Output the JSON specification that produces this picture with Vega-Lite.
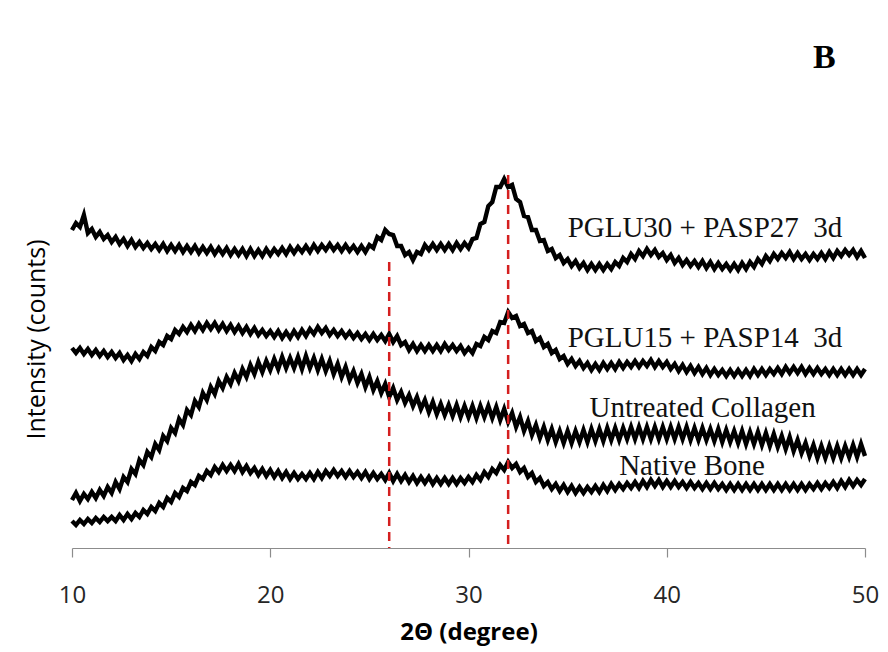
{
"$schema": "https://vega.github.io/schema/vega-lite/v6.json",
"width": 793,
"height": 418,
"autosize": {"type": "none"},
"padding": {"left": 72, "top": 130, "right": 23, "bottom": 104},
"background": "white",
"config": {"view": {"stroke": null}},
"title": {"text": "B", "anchor": "end", "orient": "top", "baseline": "alphabetic", "offset": 28, "dx": -43, "font": "Liberation Serif", "fontSize": 34, "fontWeight": "bold", "color": "black"},
"datasets": {
"xrd": [
{"x":10.0,"a":318,"b":200,"c":48,"d":27},
{"x":10.2,"a":325,"b":195,"c":55,"d":23},
{"x":10.4,"a":321,"b":200,"c":47,"d":28},
{"x":10.6,"a":333,"b":194,"c":54,"d":24},
{"x":10.8,"a":315,"b":199,"c":49,"d":29},
{"x":11.0,"a":319,"b":193,"c":56,"d":25},
{"x":11.2,"a":311,"b":198,"c":50,"d":30},
{"x":11.4,"a":316,"b":192,"c":58,"d":26},
{"x":11.6,"a":309,"b":197,"c":52,"d":31},
{"x":11.8,"a":313,"b":191,"c":61,"d":27},
{"x":12.0,"a":306,"b":196,"c":55,"d":31},
{"x":12.2,"a":311,"b":190,"c":66,"d":27},
{"x":12.4,"a":304,"b":195,"c":59,"d":33},
{"x":12.6,"a":309,"b":188,"c":71,"d":28},
{"x":12.8,"a":302,"b":193,"c":66,"d":34},
{"x":13.0,"a":308,"b":187,"c":79,"d":29},
{"x":13.2,"a":301,"b":194,"c":74,"d":35},
{"x":13.4,"a":306,"b":189,"c":88,"d":31},
{"x":13.6,"a":300,"b":196,"c":83,"d":38},
{"x":13.8,"a":305,"b":192,"c":96,"d":34},
{"x":14.0,"a":299,"b":201,"c":91,"d":41},
{"x":14.2,"a":304,"b":197,"c":104,"d":37},
{"x":14.4,"a":298,"b":206,"c":98,"d":45},
{"x":14.6,"a":304,"b":203,"c":112,"d":41},
{"x":14.8,"a":297,"b":212,"c":107,"d":50},
{"x":15.0,"a":303,"b":209,"c":120,"d":46},
{"x":15.2,"a":297,"b":218,"c":115,"d":55},
{"x":15.4,"a":303,"b":214,"c":129,"d":51},
{"x":15.6,"a":296,"b":221,"c":123,"d":60},
{"x":15.8,"a":302,"b":216,"c":138,"d":57},
{"x":16.0,"a":296,"b":223,"c":133,"d":66},
{"x":16.2,"a":302,"b":217,"c":147,"d":63},
{"x":16.4,"a":295,"b":224,"c":141,"d":72},
{"x":16.6,"a":301,"b":218,"c":155,"d":69},
{"x":16.8,"a":295,"b":225,"c":148,"d":77},
{"x":17.0,"a":301,"b":219,"c":161,"d":73},
{"x":17.2,"a":294,"b":225,"c":154,"d":81},
{"x":17.4,"a":300,"b":218,"c":167,"d":76},
{"x":17.6,"a":294,"b":224,"c":160,"d":83},
{"x":17.8,"a":300,"b":217,"c":171,"d":77},
{"x":18.0,"a":293,"b":223,"c":164,"d":83},
{"x":18.2,"a":299,"b":216,"c":175,"d":77},
{"x":18.4,"a":293,"b":222,"c":167,"d":84},
{"x":18.6,"a":299,"b":215,"c":179,"d":76},
{"x":18.8,"a":292,"b":221,"c":171,"d":82},
{"x":19.0,"a":299,"b":214,"c":183,"d":75},
{"x":19.2,"a":292,"b":220,"c":174,"d":80},
{"x":19.4,"a":298,"b":213,"c":186,"d":73},
{"x":19.6,"a":292,"b":218,"c":176,"d":79},
{"x":19.8,"a":299,"b":212,"c":187,"d":72},
{"x":20.0,"a":293,"b":217,"c":178,"d":78},
{"x":20.2,"a":299,"b":211,"c":189,"d":71},
{"x":20.4,"a":294,"b":217,"c":179,"d":77},
{"x":20.6,"a":300,"b":210,"c":191,"d":70},
{"x":20.8,"a":294,"b":216,"c":180,"d":76},
{"x":21.0,"a":301,"b":210,"c":190,"d":69},
{"x":21.2,"a":295,"b":217,"c":180,"d":75},
{"x":21.4,"a":301,"b":211,"c":191,"d":69},
{"x":21.6,"a":296,"b":218,"c":179,"d":74},
{"x":21.8,"a":302,"b":212,"c":192,"d":69},
{"x":22.0,"a":296,"b":219,"c":180,"d":75},
{"x":22.2,"a":303,"b":214,"c":190,"d":69},
{"x":22.4,"a":297,"b":221,"c":178,"d":76},
{"x":22.6,"a":303,"b":215,"c":189,"d":70},
{"x":22.8,"a":298,"b":220,"c":177,"d":77},
{"x":23.0,"a":304,"b":213,"c":187,"d":72},
{"x":23.2,"a":298,"b":218,"c":174,"d":78},
{"x":23.4,"a":303,"b":212,"c":184,"d":72},
{"x":23.6,"a":297,"b":217,"c":171,"d":77},
{"x":23.8,"a":303,"b":211,"c":181,"d":71},
{"x":24.0,"a":297,"b":216,"c":168,"d":77},
{"x":24.2,"a":302,"b":210,"c":177,"d":71},
{"x":24.4,"a":296,"b":215,"c":165,"d":76},
{"x":24.6,"a":302,"b":209,"c":174,"d":70},
{"x":24.8,"a":296,"b":214,"c":161,"d":76},
{"x":25.0,"a":303,"b":208,"c":171,"d":69},
{"x":25.2,"a":300,"b":214,"c":158,"d":75},
{"x":25.4,"a":311,"b":208,"c":167,"d":69},
{"x":25.6,"a":308,"b":213,"c":155,"d":74},
{"x":25.8,"a":318,"b":207,"c":164,"d":68},
{"x":26.0,"a":314,"b":214,"c":151,"d":75},
{"x":26.2,"a":313,"b":206,"c":160,"d":67},
{"x":26.4,"a":302,"b":212,"c":148,"d":74},
{"x":26.6,"a":302,"b":203,"c":156,"d":67},
{"x":26.8,"a":293,"b":206,"c":145,"d":73},
{"x":27.0,"a":296,"b":198,"c":153,"d":66},
{"x":27.2,"a":288,"b":204,"c":142,"d":72},
{"x":27.4,"a":296,"b":197,"c":151,"d":65},
{"x":27.6,"a":294,"b":203,"c":139,"d":71},
{"x":27.8,"a":303,"b":197,"c":148,"d":65},
{"x":28.0,"a":298,"b":203,"c":136,"d":71},
{"x":28.2,"a":304,"b":197,"c":146,"d":64},
{"x":28.4,"a":298,"b":203,"c":134,"d":70},
{"x":28.6,"a":304,"b":197,"c":144,"d":64},
{"x":28.8,"a":298,"b":204,"c":133,"d":70},
{"x":29.0,"a":304,"b":198,"c":143,"d":64},
{"x":29.2,"a":298,"b":203,"c":132,"d":70},
{"x":29.4,"a":305,"b":197,"c":143,"d":64},
{"x":29.6,"a":299,"b":202,"c":131,"d":70},
{"x":29.8,"a":305,"b":195,"c":142,"d":65},
{"x":30.0,"a":300,"b":200,"c":131,"d":71},
{"x":30.2,"a":309,"b":195,"c":142,"d":66},
{"x":30.4,"a":310,"b":204,"c":130,"d":73},
{"x":30.6,"a":324,"b":202,"c":142,"d":68},
{"x":30.8,"a":326,"b":211,"c":131,"d":76},
{"x":31.0,"a":342,"b":208,"c":142,"d":71},
{"x":31.2,"a":346,"b":217,"c":130,"d":79},
{"x":31.4,"a":361,"b":215,"c":141,"d":75},
{"x":31.6,"a":361,"b":226,"c":128,"d":83},
{"x":31.8,"a":369,"b":225,"c":139,"d":78},
{"x":32.0,"a":361,"b":236,"c":126,"d":86},
{"x":32.2,"a":363,"b":230,"c":135,"d":80},
{"x":32.4,"a":349,"b":232,"c":121,"d":84},
{"x":32.6,"a":346,"b":222,"c":131,"d":76},
{"x":32.8,"a":332,"b":224,"c":117,"d":80},
{"x":33.0,"a":331,"b":215,"c":127,"d":71},
{"x":33.2,"a":318,"b":217,"c":113,"d":75},
{"x":33.4,"a":318,"b":207,"c":123,"d":66},
{"x":33.6,"a":307,"b":210,"c":110,"d":70},
{"x":33.8,"a":308,"b":201,"c":121,"d":62},
{"x":34.0,"a":297,"b":204,"c":108,"d":66},
{"x":34.2,"a":299,"b":195,"c":119,"d":59},
{"x":34.4,"a":290,"b":198,"c":106,"d":64},
{"x":34.6,"a":293,"b":189,"c":117,"d":57},
{"x":34.8,"a":285,"b":192,"c":105,"d":63},
{"x":35.0,"a":289,"b":184,"c":117,"d":56},
{"x":35.2,"a":282,"b":189,"c":105,"d":62},
{"x":35.4,"a":287,"b":182,"c":117,"d":55},
{"x":35.6,"a":280,"b":187,"c":106,"d":61},
{"x":35.8,"a":285,"b":180,"c":118,"d":55},
{"x":36.0,"a":278,"b":185,"c":106,"d":61},
{"x":36.2,"a":284,"b":178,"c":119,"d":56},
{"x":36.4,"a":278,"b":184,"c":107,"d":62},
{"x":36.6,"a":284,"b":178,"c":119,"d":56},
{"x":36.8,"a":278,"b":185,"c":107,"d":63},
{"x":37.0,"a":284,"b":179,"c":120,"d":57},
{"x":37.2,"a":279,"b":185,"c":108,"d":64},
{"x":37.4,"a":286,"b":179,"c":120,"d":58},
{"x":37.6,"a":282,"b":186,"c":108,"d":64},
{"x":37.8,"a":290,"b":180,"c":120,"d":59},
{"x":38.0,"a":286,"b":186,"c":109,"d":65},
{"x":38.2,"a":294,"b":181,"c":121,"d":60},
{"x":38.4,"a":289,"b":187,"c":109,"d":66},
{"x":38.6,"a":297,"b":181,"c":121,"d":60},
{"x":38.8,"a":292,"b":187,"c":109,"d":67},
{"x":39.0,"a":299,"b":182,"c":121,"d":61},
{"x":39.2,"a":293,"b":188,"c":109,"d":68},
{"x":39.4,"a":298,"b":181,"c":121,"d":62},
{"x":39.6,"a":291,"b":187,"c":109,"d":68},
{"x":39.8,"a":295,"b":181,"c":121,"d":61},
{"x":40.0,"a":288,"b":186,"c":109,"d":67},
{"x":40.2,"a":293,"b":179,"c":121,"d":61},
{"x":40.4,"a":285,"b":184,"c":109,"d":67},
{"x":40.6,"a":290,"b":177,"c":121,"d":61},
{"x":40.8,"a":283,"b":183,"c":109,"d":66},
{"x":41.0,"a":288,"b":176,"c":121,"d":60},
{"x":41.2,"a":282,"b":182,"c":108,"d":66},
{"x":41.4,"a":287,"b":175,"c":120,"d":60},
{"x":41.6,"a":281,"b":181,"c":108,"d":65},
{"x":41.8,"a":287,"b":174,"c":120,"d":59},
{"x":42.0,"a":280,"b":180,"c":108,"d":65},
{"x":42.2,"a":286,"b":173,"c":119,"d":59},
{"x":42.4,"a":279,"b":179,"c":107,"d":65},
{"x":42.6,"a":285,"b":173,"c":119,"d":59},
{"x":42.8,"a":279,"b":178,"c":106,"d":64},
{"x":43.0,"a":284,"b":172,"c":118,"d":58},
{"x":43.2,"a":278,"b":178,"c":106,"d":64},
{"x":43.4,"a":284,"b":172,"c":117,"d":58},
{"x":43.6,"a":278,"b":178,"c":105,"d":64},
{"x":43.8,"a":285,"b":172,"c":117,"d":58},
{"x":44.0,"a":279,"b":178,"c":104,"d":64},
{"x":44.2,"a":286,"b":172,"c":116,"d":58},
{"x":44.4,"a":281,"b":179,"c":104,"d":64},
{"x":44.6,"a":289,"b":173,"c":116,"d":58},
{"x":44.8,"a":284,"b":179,"c":103,"d":64},
{"x":45.0,"a":292,"b":173,"c":115,"d":58},
{"x":45.2,"a":287,"b":179,"c":102,"d":64},
{"x":45.4,"a":294,"b":174,"c":114,"d":58},
{"x":45.6,"a":289,"b":180,"c":101,"d":64},
{"x":45.8,"a":295,"b":174,"c":112,"d":58},
{"x":46.0,"a":290,"b":181,"c":99,"d":64},
{"x":46.2,"a":296,"b":175,"c":111,"d":58},
{"x":46.4,"a":289,"b":181,"c":97,"d":64},
{"x":46.6,"a":295,"b":175,"c":108,"d":58},
{"x":46.8,"a":289,"b":181,"c":95,"d":64},
{"x":47.0,"a":294,"b":174,"c":105,"d":58},
{"x":47.2,"a":288,"b":180,"c":92,"d":64},
{"x":47.4,"a":294,"b":174,"c":103,"d":59},
{"x":47.6,"a":289,"b":180,"c":90,"d":65},
{"x":47.8,"a":295,"b":174,"c":102,"d":59},
{"x":48.0,"a":289,"b":179,"c":90,"d":65},
{"x":48.2,"a":296,"b":173,"c":102,"d":60},
{"x":48.4,"a":290,"b":179,"c":90,"d":66},
{"x":48.6,"a":297,"b":173,"c":102,"d":60},
{"x":48.8,"a":292,"b":179,"c":90,"d":67},
{"x":49.0,"a":298,"b":173,"c":102,"d":61},
{"x":49.2,"a":293,"b":179,"c":91,"d":68},
{"x":49.4,"a":298,"b":173,"c":103,"d":62},
{"x":49.6,"a":291,"b":179,"c":91,"d":68},
{"x":49.8,"a":297,"b":173,"c":104,"d":63},
{"x":50.0,"a":290,"b":179,"c":92,"d":69}
],
"refs": [{"x": 26, "top": 286, "bottom": 0}, {"x": 32, "top": 373, "bottom": 0}],
"labels": [
{"x": 35.0, "y": 320, "label": "PGLU30 + PASP27\u00a0 3d"},
{"x": 35.0, "y": 210, "label": "PGLU15 + PASP14\u00a0 3d"},
{"x": 36.1, "y": 140, "label": "Untreated Collagen"},
{"x": 37.6, "y": 82, "label": "Native Bone"}
]
},
"layer": [
{
"data": {"name": "xrd"},
"transform": [{"fold": ["a", "b", "c", "d"], "as": ["series", "v"]}],
"mark": {"type": "line", "color": "black", "strokeWidth": 4.4, "strokeJoin": "miter", "clip": false},
"encoding": {
"x": {"field": "x", "type": "quantitative", "scale": {"domain": [10, 50], "nice": false, "zero": false},
"axis": {"values": [10, 20, 30, 40, 50], "grid": false, "domainColor": "#8c8c8c", "domainWidth": 1.2, "tickColor": "#8c8c8c", "tickSize": 9, "tickWidth": 1.2,
"labelFont": "Open Sans", "labelFontSize": 24, "labelColor": "#262626", "labelPadding": 26, "labelFlush": false,
"title": "2Θ (degree)", "titleFont": "Open Sans", "titleFontSize": 24, "titleFontWeight": "bold", "titleColor": "#000000", "titlePadding": 13}},
"y": {"field": "v", "type": "quantitative", "scale": {"domain": [0, 418], "nice": false, "zero": false},
"axis": {"domain": false, "ticks": false, "labels": false, "grid": false, "title": "Intensity (counts)", "titleFont": "Open Sans", "titleFontSize": 25, "titleFontWeight": "normal", "titleColor": "#000000", "titlePadding": 23}},
"detail": {"field": "series"}
}
},
{
"data": {"name": "refs"},
"mark": {"type": "rule", "color": "#d41f1f", "strokeWidth": 2.5, "strokeDash": [9, 6]},
"encoding": {
"x": {"field": "x", "type": "quantitative"},
"y": {"field": "top", "type": "quantitative"},
"y2": {"field": "bottom"}
}
},
{
"data": {"name": "labels"},
"mark": {"type": "text", "font": "Liberation Serif", "fontSize": 29, "align": "left", "baseline": "middle", "color": "#111111"},
"encoding": {
"x": {"field": "x", "type": "quantitative"},
"y": {"field": "y", "type": "quantitative"},
"text": {"field": "label"}
}
}
]
}
